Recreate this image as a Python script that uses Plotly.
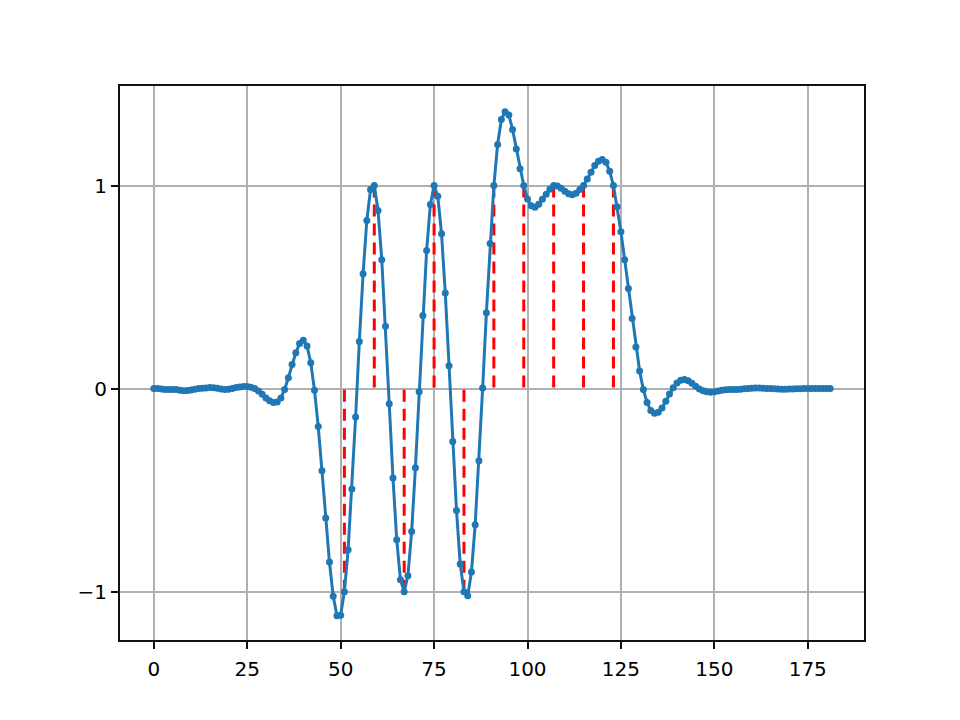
import plotly.graph_objects as go

# ---- data ----
samples = list(range(182))
signal = [
    0.0, 0.0, -0.002, -0.004, -0.004, -0.004, -0.005, -0.008, -0.011, -0.01,
    -0.007, -0.003, 0.0, 0.002, 0.003, 0.005, 0.004, 0.002, -0.002, -0.004,
    -0.003, 0.001, 0.005, 0.008, 0.01, 0.01, 0.007, 0.0, -0.012, -0.028,
    -0.046, -0.06, -0.068, -0.066, -0.046, -0.005, 0.053, 0.118, 0.176, 0.222,
    0.238, 0.21, 0.127, -0.008, -0.187, -0.405, -0.637, -0.854, -1.022, -1.118,
    -1.116, -1.0, -0.793, -0.494, -0.14, 0.232, 0.565, 0.828, 0.98, 1.0,
    0.877, 0.635, 0.307, -0.075, -0.44, -0.744, -0.941, -1.0, -0.922, -0.704,
    -0.39, -0.015, 0.36, 0.68, 0.906, 1.0, 0.947, 0.762, 0.471, 0.113,
    -0.26, -0.6, -0.864, -1.0, -1.02, -0.903, -0.67, -0.355, 0.003, 0.373,
    0.714, 1.0, 1.202, 1.325, 1.363, 1.347, 1.276, 1.18, 1.082, 1.0,
    0.934, 0.9, 0.893, 0.908, 0.932, 0.957, 0.982, 1.0, 0.998, 0.987,
    0.972, 0.96, 0.955, 0.962, 0.98, 1.0, 1.032, 1.065, 1.098, 1.12,
    1.128, 1.115, 1.07, 1.0, 0.895, 0.772, 0.635, 0.493, 0.345, 0.205,
    0.087, -0.005, -0.068, -0.108, -0.122, -0.116, -0.095, -0.062, -0.027, 0.004,
    0.027, 0.041, 0.045, 0.039, 0.026, 0.011, -0.002, -0.011, -0.016, -0.018,
    -0.016, -0.012, -0.008, -0.006, -0.005, -0.004, -0.004, -0.003, -0.001, 0.0,
    0.002, 0.003, 0.003, 0.002, 0.001, 0.0, -0.001, -0.002, -0.003, -0.003,
    -0.002, -0.002, -0.001, -0.001, 0.0, 0.0, 0.0, 0.0, 0.0, 0.0,
    0.0, 0.0,
]
symbol_times = [51, 59, 67, 75, 83, 91, 99, 107, 115, 123]
symbol_values = [-1, 1, -1, 1, -1, 1, 1, 1, 1, 1]

x_ticks = [0, 25, 50, 75, 100, 125, 150, 175]
y_ticks = [-1, 0, 1]
y_tick_labels = ["\u22121", "0", "1"]

fig = go.Figure()

for t, v in zip(symbol_times, symbol_values):
    fig.add_trace(go.Scatter(
        x=[t, t], y=[v, 0], mode="lines",
        line=dict(color="#ff0000", width=3, dash="12px,7px"),
        showlegend=False, hoverinfo="skip",
    ))

fig.add_trace(go.Scatter(
    x=samples, y=signal, mode="lines+markers",
    line=dict(color="#1f77b4", width=3),
    marker=dict(color="#1f77b4", size=7),
    showlegend=False,
))

axis_common = dict(
    showline=True, mirror=True, linecolor="#111111", linewidth=2,
    ticks="outside", ticklen=7, tickwidth=2, tickcolor="#111111",
    showgrid=True, gridcolor="#b0b0b0", gridwidth=2,
    zeroline=False,
    tickfont=dict(family="DejaVu Sans", size=20, color="black"),
)

fig.update_layout(
    width=960, height=720,
    margin=dict(l=120, r=96, t=86, b=80),
    paper_bgcolor="white", plot_bgcolor="white",
    xaxis=dict(range=[-9.05, 190.05], tickvals=x_ticks, ticklabelstandoff=3, **axis_common),
    yaxis=dict(range=[-1.238, 1.49], tickvals=y_ticks, ticktext=y_tick_labels, **axis_common),
    font=dict(family="DejaVu Sans"),
    hovermode=False,
)

fig.write_html(
    "out.html",
    config={"displayModeBar": False, "staticPlot": True},
    post_script="document.body.style.margin='0px';document.body.style.padding='0px';",
)
